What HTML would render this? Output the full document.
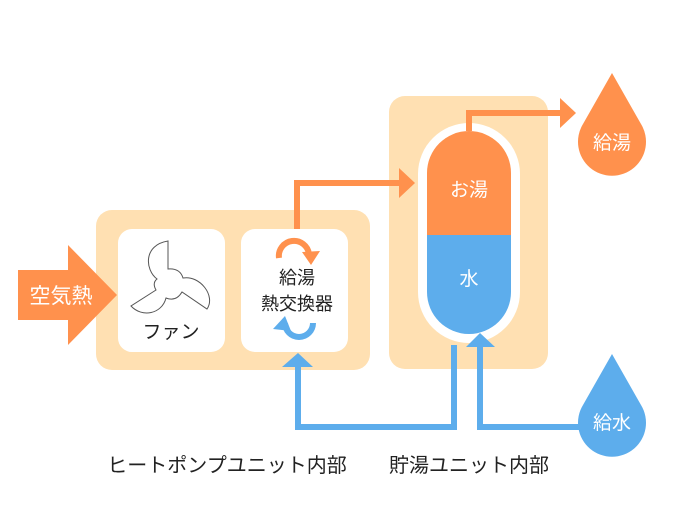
<!DOCTYPE html>
<html><head><meta charset="utf-8"><style>
html,body{margin:0;padding:0;background:#fff;}
svg{display:block;}
text{font-family:"Liberation Sans","Noto Sans CJK JP",sans-serif;}
</style></head><body>
<svg width="700" height="507" viewBox="0 0 700 507" xmlns="http://www.w3.org/2000/svg">
<rect x="96" y="210" width="274" height="160" rx="16" fill="#FFE0B2"/>
<rect x="389" y="96" width="159" height="273" rx="16" fill="#FFE0B2"/>
<rect x="118" y="229" width="107" height="123" rx="14" fill="#fff"/>
<rect x="241" y="229" width="107" height="123" rx="14" fill="#fff"/>
<!-- air arrow -->
<polygon points="18,270 68,270 68,245 117,295 68,345 68,320 18,320" fill="#FF914D"/>
<text x="61" y="303" font-size="21" fill="#fff" text-anchor="middle">空気熱</text>
<!-- fan -->
<path d="M168,241 L168,269 Q180,268 183,278 C200,275 216,296 207,309 L182,292 Q176,302 166,298 C162,314 142,318 131,306 L156,290 Q152,283 157,279 C145,270 143,245 168,241 Z" fill="#fff" stroke="#555" stroke-width="1"/>
<text x="171" y="338" font-size="19" fill="#222" text-anchor="middle">ファン</text>
<!-- heat exchanger -->
<text x="297" y="284" font-size="18" fill="#222" text-anchor="middle">給湯</text>
<text x="297" y="310" font-size="18" fill="#222" text-anchor="middle">熱交換器</text>
<path d="M279,258 A15,15 0 0 1 309,254" fill="none" stroke="#FF914D" stroke-width="6"/>
<polygon points="302,252 320,251 311,265" fill="#FF914D"/>
<path d="M285,323 A14,14 0 1 0 313,323" fill="none" stroke="#5DADEC" stroke-width="6"/>
<polygon points="273,329 291,331 285,316" fill="#5DADEC"/>
<!-- orange pipe to tank -->
<polyline points="297,229 297,183 400,183" fill="none" stroke="#FF914D" stroke-width="6"/>
<polygon points="399,168 415,183 399,198" fill="#FF914D"/>
<!-- tank -->
<rect x="418" y="123" width="102" height="220" rx="51" fill="#fff"/>
<path d="M427,173 A42,42 0 0 1 511,173 L511,235 L427,235 Z" fill="#FF914D"/>
<path d="M427,235 L511,235 L511,292 A42,42 0 0 1 427,292 Z" fill="#5DADEC"/>
<text x="469" y="196" font-size="19" fill="#fff" text-anchor="middle">お湯</text>
<text x="469" y="285" font-size="19" fill="#fff" text-anchor="middle">水</text>
<!-- top pipe -->
<polyline points="469,131 469,113 562,113" fill="none" stroke="#FF914D" stroke-width="6"/>
<polygon points="560,98 576,113 560,128" fill="#FF914D"/>
<!-- drops -->
<path d="M612,73 L641,124 A34,34 0 1 1 583,124 Z" fill="#FF914D"/>
<text x="612" y="149" font-size="19" fill="#fff" text-anchor="middle">給湯</text>
<path d="M612,354 L641,405 A34,34 0 1 1 583,405 Z" fill="#5DADEC"/>
<text x="612" y="429" font-size="19" fill="#fff" text-anchor="middle">給水</text>
<!-- blue pipes -->
<polyline points="454,345 454,427 298,427 298,366" fill="none" stroke="#5DADEC" stroke-width="6"/>
<polygon points="282,367 298,353 313,367" fill="#5DADEC"/>
<polyline points="590,427 480,427 480,346" fill="none" stroke="#5DADEC" stroke-width="6"/>
<polygon points="466,347 480,333 495,347" fill="#5DADEC"/>
<!-- labels -->
<text x="227" y="472" font-size="20" fill="#222" text-anchor="middle">ヒートポンプユニット内部</text>
<text x="469" y="472" font-size="20" fill="#222" text-anchor="middle">貯湯ユニット内部</text>
</svg>
</body></html>
